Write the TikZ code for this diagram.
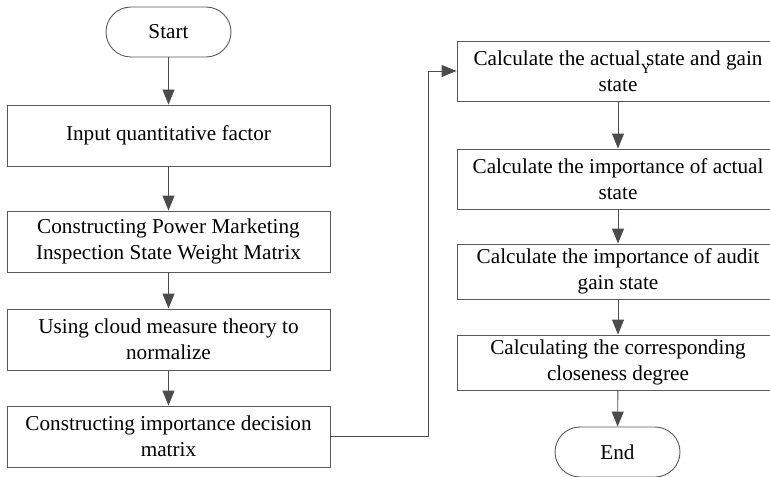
\documentclass[tikz,border=0pt]{standalone}
\usepackage{fontspec}
\setmainfont{Liberation Serif}
\usetikzlibrary{arrows.meta,calc}
\begin{document}
\begin{tikzpicture}[x=1pt,y=-1pt,
  box/.style={draw=black!65,line width=0.9pt,rectangle,minimum width=323pt,inner sep=0pt,align=center,font=\fontsize{21.2}{26}\selectfont},
  term/.style={draw=black!65,line width=0.9pt,rectangle,rounded corners=25pt,minimum width=125pt,minimum height=50pt,inner sep=0pt,font=\fontsize{21.2}{26}\selectfont},
  conn/.style={draw=black!70,line width=0.9pt,-{Triangle[width=12pt,length=15pt]}}]
\useasboundingbox (0,0) rectangle (770,476);
\clip (0,0) rectangle (770,476);
\node[term] (start) at (168.5,32) {Start};
\node[box,minimum height=61pt] (b1) at (168.5,135.5) {Input quantitative factor};
\node[box,minimum height=61pt] (b2) at (168.5,241.5) {Constructing Power Marketing\\Inspection State Weight Matrix};
\node[box,minimum height=61pt] (b3) at (168.5,339.5) {Using cloud measure theory to\\normalize};
\node[box,minimum height=61pt] (b4) at (168.5,436.5) {Constructing importance decision\\matrix};
\node[box,minimum width=322pt,minimum height=60pt] (b5) at (618,71) {Calculate the actual state and gain\\state};
\node[box,minimum width=322pt,minimum height=60pt] (b6) at (618,179) {Calculate the importance of actual\\state};
\node[box,minimum width=322pt,minimum height=55pt] (b7) at (618,271.5) {Calculate the importance of audit\\gain state};
\node[box,minimum width=322pt,minimum height=55pt] (b8) at (618,362.5) {Calculating the corresponding\\closeness degree};
\node[term] (end) at (617.5,452) {End};
\node[font=\fontsize{14}{14}\selectfont,inner sep=0pt] (ymark) at (646,69) {Y};
\coordinate (turn) at (428,436.5);
\draw[conn] (start) -- (b1);
\draw[conn] (b1) -- (b2);
\draw[conn] (b2) -- (b3);
\draw[conn] (b3) -- (b4);
\draw[conn] (b4.east) -- (turn) |- (b5.west);
\draw[conn] (b5) -- (b6);
\draw[conn] (b6) -- (b7);
\draw[conn] (b7) -- (b8);
\draw[conn] (b8) -- (end);
\end{tikzpicture}
\end{document}
